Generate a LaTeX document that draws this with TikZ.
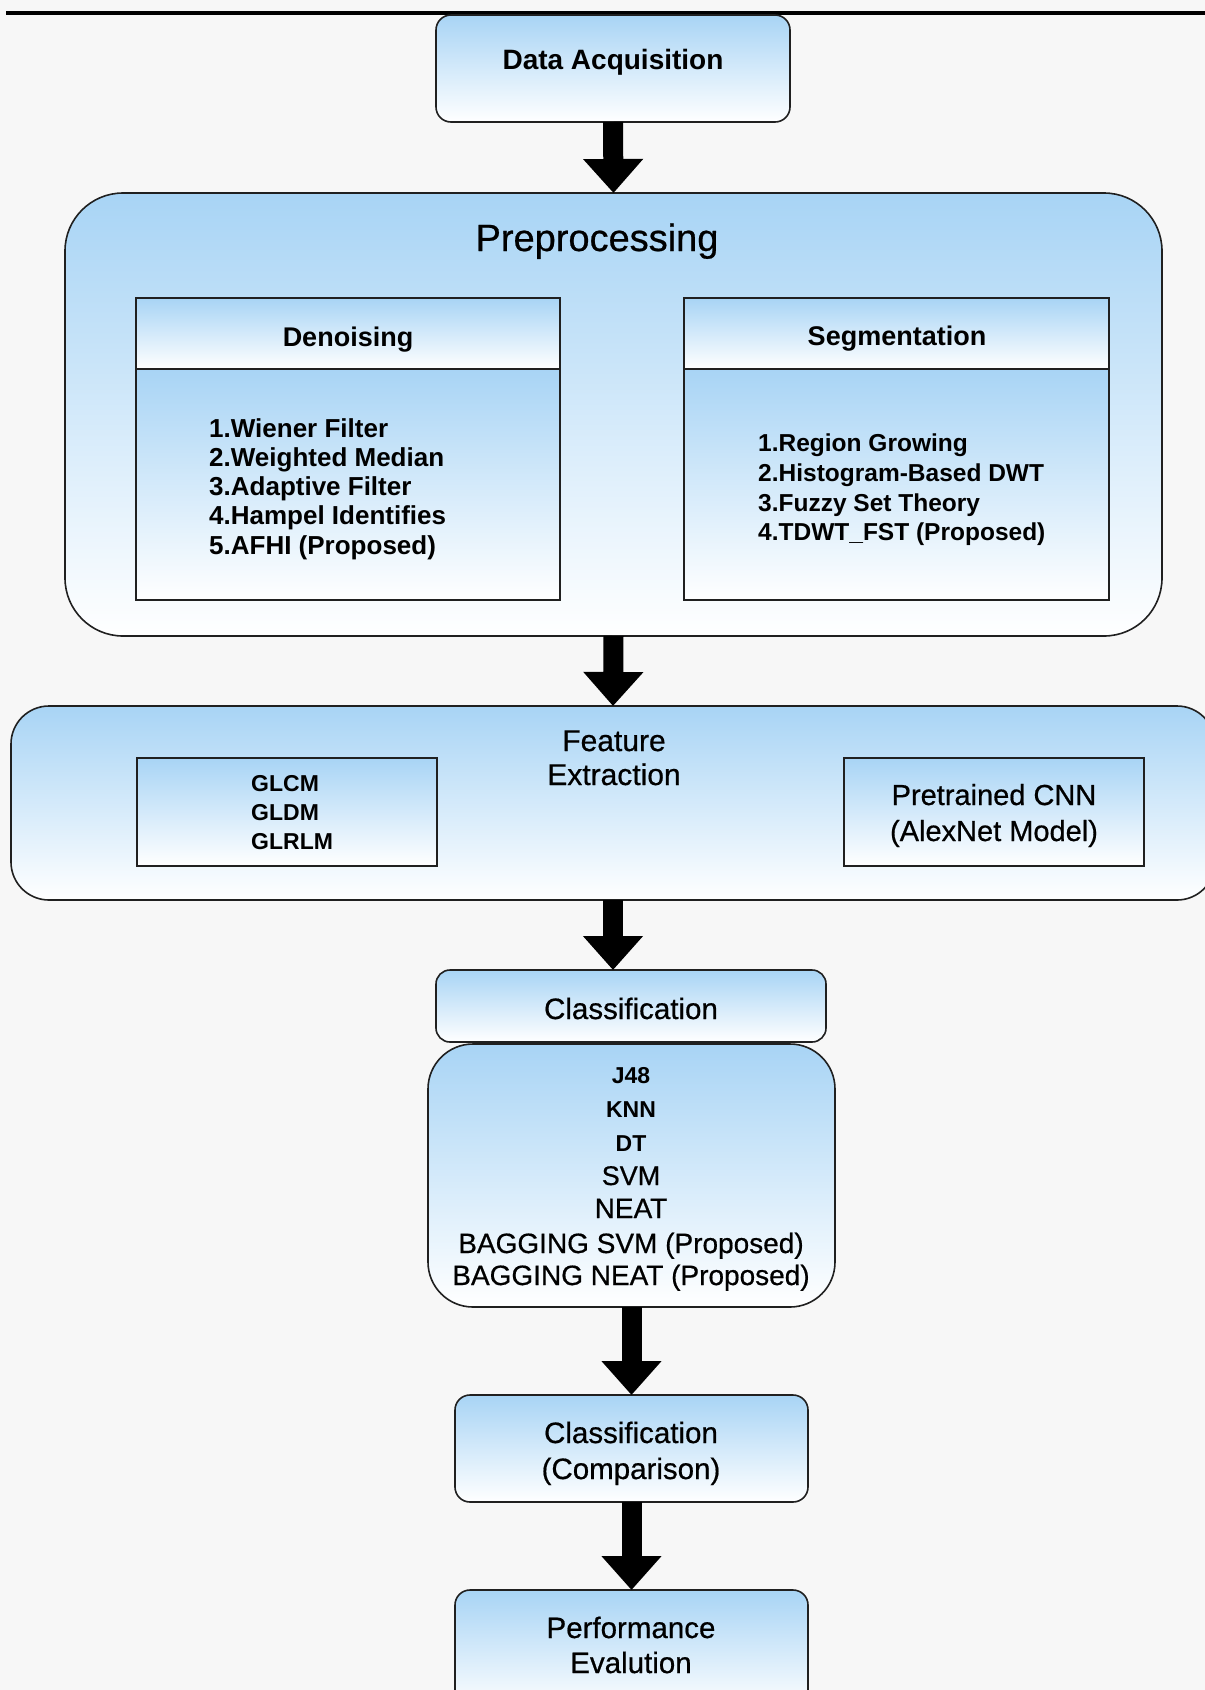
\documentclass[tikz,border=0pt]{standalone}
\usepackage{fontspec}
\setmainfont{Liberation Sans}
\newfontfamily\medf[FakeBold=0.6]{Liberation Sans}
\usetikzlibrary{arrows.meta}
\definecolor{bgc}{HTML}{F7F7F7}
\definecolor{topblue}{HTML}{A8D4F5}
\definecolor{edgec}{HTML}{202020}
\newcommand{\myfs}[1]{\fontsize{#1}{#1}\selectfont}
\begin{document}
\begin{tikzpicture}[x=1pt,y=-1pt,
  gbox/.style={draw=edgec, line width=1.6pt, top color=topblue, bottom color=white, inner sep=0pt, outer sep=0pt},
  flow/.style={line width=20pt, draw=black, -{Triangle[width=58pt,length=34pt]}},
  t/.style={inner sep=0pt, anchor=base, text=black},
  tl/.style={inner sep=0pt, anchor=base west, text=black},
]
\useasboundingbox[fill=bgc] (0,0) rectangle (1205,1690);
% top rule
\coordinate (rl) at (6,13);
\coordinate (rr) at (1205,13);
\draw[line width=4pt] (rl) -- (rr);

% boxes
\node[gbox, rounded corners=15pt, minimum width=354pt, minimum height=107pt] (da) at (613,68.5) {};
\node[gbox, rounded corners=58pt, minimum width=1097pt, minimum height=443pt] (pre) at (613.5,414.5) {};
\node[gbox, minimum width=424pt, minimum height=71pt] (denh) at (348,333.5) {};
\node[gbox, minimum width=424pt, minimum height=231pt] (denb) at (348,484.5) {};
\node[gbox, minimum width=425pt, minimum height=71pt] (segh) at (896.5,333.5) {};
\node[gbox, minimum width=425pt, minimum height=231pt] (segb) at (896.5,484.5) {};
\node[gbox, rounded corners=38pt, minimum width=1204pt, minimum height=194pt] (fe) at (613,803) {};
\node[gbox, minimum width=300pt, minimum height=108pt] (glcm) at (287,812) {};
\node[gbox, minimum width=300pt, minimum height=108pt] (cnn) at (994,812) {};
\node[gbox, rounded corners=14pt, minimum width=390pt, minimum height=72pt] (clh) at (631,1006) {};
\node[gbox, rounded corners=45pt, minimum width=407pt, minimum height=263pt] (cll) at (631.5,1175.5) {};
\node[gbox, rounded corners=15pt, minimum width=353pt, minimum height=107pt] (cmp) at (631.5,1448.5) {};
\node[gbox, rounded corners=15pt, minimum width=353pt, minimum height=120pt] (pe) at (631.5,1650) {};

% texts
\node[t, font=\myfs{28}\bfseries] (tda) at (613,69) {Data Acquisition};
\node[t, font=\medf\myfs{38}] (tpre) at (597,251) {Preprocessing};
\node[t, font=\myfs{27}\bfseries] (tden) at (348,346) {Denoising};
\node[t, font=\myfs{27}\bfseries] (tseg) at (897,345) {Segmentation};

\node[tl, font=\myfs{26}\bfseries] (d1) at (209,437) {1.Wiener Filter};
\node[tl, font=\myfs{26}\bfseries] (d2) at (209,466) {2.Weighted Median};
\node[tl, font=\myfs{26}\bfseries] (d3) at (209,495) {3.Adaptive Filter};
\node[tl, font=\myfs{26}\bfseries] (d4) at (209,524.5) {4.Hampel Identifies};
\node[tl, font=\myfs{26}\bfseries] (d5) at (209,554) {5.AFHI (Proposed)};

\node[tl, font=\myfs{24.5}\bfseries] (s1) at (758,451) {1.Region Growing};
\node[tl, font=\myfs{24.5}\bfseries] (s2) at (758,481) {2.Histogram-Based DWT};
\node[tl, font=\myfs{24.5}\bfseries] (s3) at (758,511) {3.Fuzzy Set Theory};
\node[tl, font=\myfs{24.5}\bfseries] (s4) at (758,540) {4.TDWT\_FST (Proposed)};

\node[t, font=\medf\myfs{30}] (tfe1) at (614,751) {Feature};
\node[t, font=\medf\myfs{30}] (tfe2) at (614,785) {Extraction};

\node[tl, font=\myfs{23}\bfseries] (g1) at (251,791) {GLCM};
\node[tl, font=\myfs{23}\bfseries] (g2) at (251,820) {GLDM};
\node[tl, font=\myfs{23}\bfseries] (g3) at (251,849) {GLRLM};

\node[t, font=\medf\myfs{29}] (c1) at (994,805) {Pretrained CNN};
\node[t, font=\medf\myfs{29}] (c2) at (994,841) {(AlexNet Model)};

\node[t, font=\medf\myfs{29.5}] (tclh) at (631,1019) {Classification};

\node[t, font=\myfs{23}\bfseries] (l1) at (631,1083) {J48};
\node[t, font=\myfs{23}\bfseries] (l2) at (631,1117) {KNN};
\node[t, font=\myfs{23}\bfseries] (l3) at (631,1151) {DT};
\node[t, font=\medf\myfs{27}] (l4) at (631,1185) {SVM};
\node[t, font=\medf\myfs{28}] (l5) at (631,1218) {NEAT};
\node[t, font=\medf\myfs{28}] (l6) at (631,1253) {BAGGING SVM (Proposed)};
\node[t, font=\medf\myfs{28}] (l7) at (631,1285) {BAGGING NEAT (Proposed)};

\node[t, font=\medf\myfs{29.5}] (cm1) at (631,1443) {Classification};
\node[t, font=\medf\myfs{29.5}] (cm2) at (631,1479) {(Comparison)};

\node[t, font=\medf\myfs{29.5}] (pe1) at (631,1638) {Performance};
\node[t, font=\medf\myfs{29.5}] (pe2) at (631,1673) {Evalution};

% arrows
\draw[flow] (da.south) -- (pre.north);
\draw[flow] (pre.south) -- (fe.north);
\draw[flow] (fe.south) -- (fe.south |- clh.north);
\draw[flow] (cll.south) -- (cmp.north);
\draw[flow] (cmp.south) -- (pe.north);
\end{tikzpicture}
\end{document}
